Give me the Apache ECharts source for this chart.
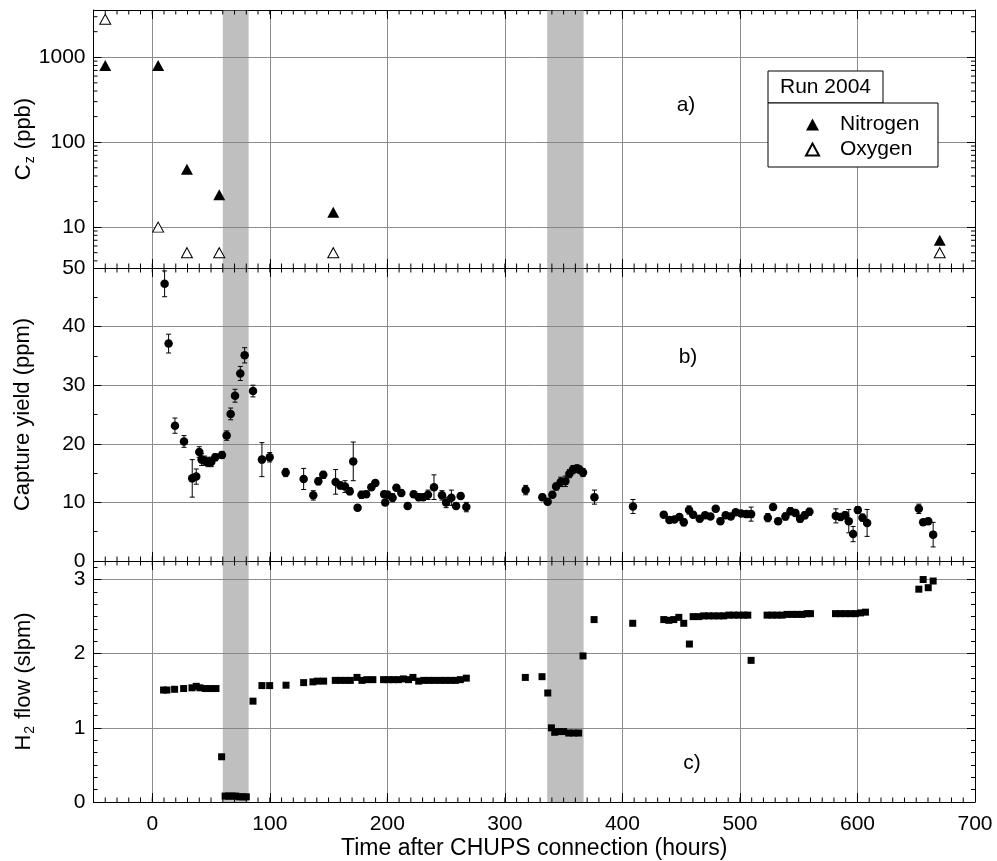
<!DOCTYPE html>
<html>
<head>
<meta charset="utf-8">
<script src="https://cdn.jsdelivr.net/npm/echarts@6/dist/echarts.min.js"></script>
<style>html,body{margin:0;padding:0;background:#fff}#c{width:997px;height:861px}</style>
</head>
<body>
<div id="c"></div>
<script>
// ---------- data ----------
var n2Time = [-40, 5, 29.5, 57, 154, 670];
var n2Val  = [800, 800, 48, 24, 15, 7];
var o2Time = [-40, 5, 29.5, 57, 154, 670];
var o2Val  = [2800, 10, 5, 5, 5, 5];

var capTime = [10.5,13.9,19.3,27.0,34.0,37.4,40.0,42.0,44.5,47.4,50.2,53.6,59.3,63.3,66.7,70.4,74.9,78.6,85.7,93.3,99.9,113.5,128.8,137.0,141.3,145.5,156.0,160.0,164.0,168.0,171.0,174.7,178.0,182.0,186.4,189.8,197.3,198.2,200.3,204.5,207.7,211.9,217.3,222.4,226.7,230.4,234.6,239.7,246.5,250.0,254.5,258.5,262.4,267.2,317.7,331.9,336.4,340.4,343.6,347.5,351.5,354.9,358.0,361.4,363.4,366.5,376.2,409.0,435.2,440.0,444.3,448.5,452.2,456.7,460.2,465.8,470.4,474.9,479.4,483.4,487.9,492.2,496.4,501.0,505.5,509.5,523.7,528.2,532.5,538.7,543.0,547.2,551.2,555.2,559.1,581.6,585.5,589.5,592.6,596.3,600.3,604.3,608.2,652.2,655.9,660.2,664.4];
var capYield = [47.3,37.1,23.1,20.4,14.1,14.4,18.6,17.3,17.1,16.9,16.9,17.7,18.1,21.4,25.1,28.2,32.0,35.1,29.0,17.3,17.7,15.1,14.0,11.2,13.6,14.7,13.5,12.9,12.7,11.9,17.0,9.1,11.3,11.4,12.6,13.3,11.4,10.0,11.3,10.8,12.5,11.6,9.4,11.4,10.9,10.9,11.3,12.6,11.2,10.0,10.8,9.4,11.1,9.2,12.1,10.9,10.1,11.3,12.7,13.5,13.6,14.9,15.6,15.8,15.6,15.1,10.9,9.3,7.9,7.0,7.1,7.5,6.6,8.7,7.9,7.2,7.8,7.6,8.9,6.8,7.8,7.6,8.3,8.1,8.0,8.0,7.4,9.2,6.8,7.6,8.5,8.2,7.2,7.8,8.4,7.7,7.5,7.8,6.8,4.6,8.7,7.4,6.5,8.9,6.6,6.8,4.5];
var capErr = [2.2,1.6,1.3,1.0,3.2,1.3,0.9,1.0,0.8,0.8,0.8,0.6,0.6,0.8,1.0,1.1,1.2,1.3,1.0,2.9,0.8,0.7,1.8,0.8,0.6,0.6,2.1,0.6,1.0,0.6,3.3,0.5,0.6,0.5,0.5,0.5,0.5,0.5,0.6,0.7,0.5,0.5,0.5,0.5,0.6,0.5,0.8,2.1,0.8,0.9,1.3,0.5,0.5,0.8,0.8,0.5,0.5,0.5,0.6,0.8,0.9,0.7,0.7,0.6,0.6,0.7,1.2,1.2,0.5,0.5,0.5,0.5,0.6,0.7,0.5,0.5,0.5,0.5,0.5,0.5,0.5,0.5,0.5,0.5,0.5,1.2,0.7,0.5,0.5,0.6,0.6,0.6,0.6,0.6,0.6,1.2,0.6,0.6,2.0,1.3,0.6,0.6,2.3,0.8,0.5,0.5,2.1];

var flowTime = [9.6,12.5,19.0,26.7,33.8,37.4,40.5,45.1,50.0,54.2,59.0,62,65,68,71,74,77,80,85.7,93.3,99.9,113.8,128.8,136.7,140.4,145.8,155.7,160.0,164.3,168.5,174.2,178.4,182.6,187.7,196.8,201.0,205.2,209.5,213.7,218.0,221.8,226.7,231.0,235.2,240.0,245.1,249.4,253.6,257.9,262.1,267.2,317.4,331.6,336.5,339.6,342.4,345.8,350.0,354.3,358.6,362.8,366.5,375.9,408.8,435.2,439.5,443.7,448.0,452.2,457.0,460.2,465.0,469.2,473.5,477.7,482.0,486.2,490.5,494.8,499.0,503.3,506.7,509.5,523.1,527.4,531.6,535.9,540.1,544.4,548.6,552.9,557.1,560.0,581.3,585.5,589.8,594.0,598.3,602.6,606.8,652.2,655.9,660.2,664.4];
var flowVal = [1.51,1.51,1.52,1.53,1.54,1.56,1.54,1.53,1.53,1.53,0.61,0.08,0.08,0.08,0.08,0.07,0.07,0.07,1.36,1.57,1.57,1.575,1.61,1.62,1.63,1.63,1.64,1.64,1.64,1.64,1.68,1.64,1.65,1.65,1.65,1.65,1.65,1.65,1.66,1.65,1.68,1.63,1.64,1.64,1.64,1.64,1.64,1.64,1.64,1.65,1.67,1.68,1.69,1.47,1.00,0.94,0.95,0.95,0.93,0.93,0.93,1.97,2.46,2.41,2.46,2.45,2.46,2.49,2.41,2.13,2.50,2.50,2.51,2.51,2.51,2.51,2.51,2.52,2.52,2.52,2.52,2.52,1.91,2.52,2.52,2.52,2.52,2.53,2.53,2.53,2.53,2.54,2.54,2.54,2.54,2.54,2.54,2.54,2.55,2.56,2.87,3.00,2.89,2.98];

var bandStart = [60, 336];
var bandEnd   = [82, 367];
var logMinorTicks = [4,5,6,7,8,9,20,30,40,50,60,70,80,90,200,300,400,500,600,700,800,900,2000,3000];
var panelLabels = ['a)', 'b)', 'c)'];

// ---------- chart ----------
var FONT = 'Liberation Sans, Arial, sans-serif';
var chart = echarts.init(document.getElementById('c'));
var grids = [
  {left: 93.5, right: 22, top: 10, height: 258, containLabel: false, outerBoundsMode: 'none'},
  {left: 93.5, right: 22, top: 268, height: 293, containLabel: false, outerBoundsMode: 'none'},
  {left: 93.5, right: 22, top: 561, height: 241, containLabel: false, outerBoundsMode: 'none'}
];
var X_MIN = -50, X_MAX = 700, X_MINOR_STEP = 10;
var xMinorTicks = [];
for (var t = X_MIN + X_MINOR_STEP; t < X_MAX; t += X_MINOR_STEP) xMinorTicks.push(t);

var axisLineBlack = {show: true, onZero: false, lineStyle: {color: '#000', width: 1}};
var gridLine = {show: true, lineStyle: {color: '#8c8c8c', width: 1}};
var tickMajor = {show: true, inside: true, length: 8, lineStyle: {color: '#000', width: 1}};
var tickMinorY = {show: true, length: 4, lineStyle: {color: '#000', width: 1}};

var xAxes = [];
for (var g = 0; g < 3; g++) {
  var isBottom = g === 2;
  ['bottom', 'top'].forEach(function (pos) {
    xAxes.push({
      type: 'value', gridIndex: g, position: pos, min: X_MIN, max: X_MAX, splitNumber: 7,
      axisLine: axisLineBlack, axisTick: {show: true, inside: true, length: 9, lineStyle: {color: '#000', width: 1}},
      axisLabel: {show: isBottom && pos === 'bottom', showMinLabel: false, color: '#000', fontSize: 21, fontFamily: FONT, margin: 12},
      splitLine: {show: pos === 'bottom', lineStyle: gridLine.lineStyle},
      name: (isBottom && pos === 'bottom') ? 'Time after CHUPS connection (hours)' : '',
      nameLocation: 'middle', nameGap: 35, nameMoveOverlap: false,
      nameTextStyle: {color: '#000', fontSize: 23, fontFamily: FONT}
    });
  });
}
// x axis index: grid g -> 2*g (bottom), 2*g+1 (top)

var labelStyle = {color: '#000', fontSize: 21, fontFamily: FONT, margin: 8};
var nameStyle = {color: '#000', fontSize: 22, fontFamily: FONT,
  rich: {s: {fontSize: 14, fontFamily: FONT, color: '#000', padding: [14, 1, 0, 1]}}};
var yAxes = [
  {type: 'log', logBase: 10, gridIndex: 0, position: 'left', min: 3.3, max: 3600,
   axisLine: axisLineBlack, axisTick: tickMajor,
   axisLabel: Object.assign({showMinLabel: false, showMaxLabel: false,
     formatter: function (v) { return String(Math.round(v)); }}, labelStyle),
   splitLine: gridLine,
   name: 'C{s|z} (ppb)', nameLocation: 'middle', nameGap: 56, nameMoveOverlap: false, nameTextStyle: nameStyle},
  {type: 'log', logBase: 10, gridIndex: 0, position: 'right', min: 3.3, max: 3600,
   axisLine: axisLineBlack, axisTick: tickMajor,
   axisLabel: {show: false}, splitLine: {show: false}},
  {type: 'value', gridIndex: 1, position: 'left', min: 0, max: 50, interval: 10,
   axisLine: axisLineBlack, axisTick: tickMajor,
   minorTick: Object.assign({splitNumber: 2}, tickMinorY),
   axisLabel: labelStyle, splitLine: gridLine,
   name: 'Capture yield (ppm)', nameLocation: 'middle', nameGap: 60, nameMoveOverlap: false, nameTextStyle: nameStyle},
  {type: 'value', gridIndex: 1, position: 'right', min: 0, max: 50, interval: 10,
   axisLine: axisLineBlack, axisTick: tickMajor,
   minorTick: Object.assign({splitNumber: 2}, tickMinorY),
   axisLabel: {show: false}, splitLine: {show: false}},
  {type: 'value', gridIndex: 2, position: 'left', min: 0, max: 3.25, interval: 1,
   axisLine: axisLineBlack, axisTick: tickMajor,
   minorTick: Object.assign({splitNumber: 6}, tickMinorY),
   axisLabel: Object.assign({showMaxLabel: false}, labelStyle), splitLine: gridLine,
   name: 'H{s|2} flow (slpm)', nameLocation: 'middle', nameGap: 56, nameMoveOverlap: false, nameTextStyle: nameStyle},
  {type: 'value', gridIndex: 2, position: 'right', min: 0, max: 3.25, interval: 1,
   axisLine: axisLineBlack, axisTick: tickMajor,
   minorTick: Object.assign({splitNumber: 6}, tickMinorY),
   axisLabel: {show: false}, splitLine: {show: false}}
];

function bands() {
  return {
    silent: true,
    itemStyle: {color: 'rgba(128,128,128,0.5)'},
    data: bandStart.map(function (s, i) { return [{xAxis: s}, {xAxis: bandEnd[i]}]; })
  };
}
function zip(a, b) { return a.map(function (v, i) { return [v, b[i]]; }); }

// minor x ticks (every 10 h) on top and bottom border of each panel
var refY = [10, 10, 1];
function xMinorSeries(g) {
  return {
    type: 'custom', xAxisIndex: 2 * g, yAxisIndex: 2 * g, silent: true, clip: false, z: 5,
    data: xMinorTicks.map(function (v) { return [v, refY[g]]; }),
    renderItem: function (params, api) {
      var cs = params.coordSys;
      var x = api.coord([api.value(0), api.value(1)])[0];
      var st = {stroke: '#000', lineWidth: 1};
      return {type: 'group', children: [
        {type: 'line', shape: {x1: x, y1: cs.y + cs.height, x2: x, y2: cs.y + cs.height - 4.5}, style: st},
        {type: 'line', shape: {x1: x, y1: cs.y, x2: x, y2: cs.y + 4.5}, style: st}
      ]};
    }
  };
}

var series = [
  {name: 'Nitrogen', type: 'scatter', xAxisIndex: 0, yAxisIndex: 0, symbol: 'triangle', symbolSize: [12, 11],
   itemStyle: {color: '#000', opacity: 1}, data: zip(n2Time, n2Val), markArea: bands(), z: 3},
  {name: 'Oxygen', type: 'scatter', xAxisIndex: 0, yAxisIndex: 0, symbol: 'triangle', symbolSize: [11, 10],
   itemStyle: {color: '#fff', borderColor: '#000', borderWidth: 1, opacity: 1}, data: zip(o2Time, o2Val), z: 3},
  {type: 'custom', xAxisIndex: 0, yAxisIndex: 0, silent: true, clip: false,
   data: logMinorTicks.map(function (v) { return [X_MIN, v]; }),
   renderItem: function (params, api) {
     var pL = api.coord([X_MIN, api.value(1)]);
     var pR = api.coord([X_MAX, api.value(1)]);
     return {type: 'group', children: [
       {type: 'line', shape: {x1: pL[0], y1: pL[1], x2: pL[0] + 4, y2: pL[1]}, style: {stroke: '#000', lineWidth: 1}},
       {type: 'line', shape: {x1: pR[0], y1: pR[1], x2: pR[0] - 4, y2: pR[1]}, style: {stroke: '#000', lineWidth: 1}}
     ]};
   }},
  {type: 'custom', xAxisIndex: 2, yAxisIndex: 2, silent: true, z: 3,
   data: capTime.map(function (t, i) { return [t, capYield[i], capErr[i]]; }),
   renderItem: function (params, api) {
     var x = api.value(0), y = api.value(1), e = api.value(2);
     var lo = api.coord([x, y - e]), hi = api.coord([x, y + e]);
     var st = {stroke: '#000', lineWidth: 1};
     return {type: 'group', children: [
       {type: 'line', shape: {x1: lo[0], y1: lo[1], x2: hi[0], y2: hi[1]}, style: st},
       {type: 'line', shape: {x1: lo[0] - 2.5, y1: lo[1], x2: lo[0] + 2.5, y2: lo[1]}, style: st},
       {type: 'line', shape: {x1: hi[0] - 2.5, y1: hi[1], x2: hi[0] + 2.5, y2: hi[1]}, style: st}
     ]};
   }},
  {name: 'Capture', type: 'scatter', xAxisIndex: 2, yAxisIndex: 2, symbol: 'circle', symbolSize: 8.5,
   itemStyle: {color: '#000', opacity: 1}, data: zip(capTime, capYield), markArea: bands(), z: 4},
  {name: 'Flow', type: 'scatter', xAxisIndex: 4, yAxisIndex: 4, symbol: 'rect', symbolSize: 7,
   itemStyle: {color: '#000', opacity: 1}, data: zip(flowTime, flowVal), markArea: bands(), z: 4},
  xMinorSeries(0), xMinorSeries(1), xMinorSeries(2)
];

var labelPos = [[686, 105], [688, 357], [692, 763]];
var graphics = [
  {type: 'rect', shape: {x: 768, y: 71, width: 115, height: 32}, style: {fill: '#fff', stroke: '#000', lineWidth: 1}, z: 10},
  {type: 'text', x: 825.5, y: 87, style: {text: 'Run 2004', fill: '#000', font: '21px ' + FONT, textAlign: 'center', textVerticalAlign: 'middle'}, z: 11},
  {type: 'rect', shape: {x: 768, y: 103, width: 170, height: 64}, style: {fill: '#fff', stroke: '#000', lineWidth: 1}, z: 10}
];
panelLabels.forEach(function (t, i) {
  graphics.push({type: 'text', x: labelPos[i][0], y: labelPos[i][1],
    style: {text: t, fill: '#000', font: '21px ' + FONT, textAlign: 'center', textVerticalAlign: 'middle'}, z: 11});
});

chart.setOption({
  animation: false,
  backgroundColor: '#fff',
  grid: grids,
  xAxis: xAxes,
  yAxis: yAxes,
  legend: {
    data: ['Nitrogen', 'Oxygen'], orient: 'vertical', left: 800, top: 109, itemGap: 4,
    itemWidth: 13, itemHeight: 12, z: 12,
    textStyle: {color: '#000', fontSize: 21, fontFamily: FONT, padding: [0, 0, 0, 16]}
  },
  graphic: graphics,
  series: series
});
</script>
</body>
</html>
